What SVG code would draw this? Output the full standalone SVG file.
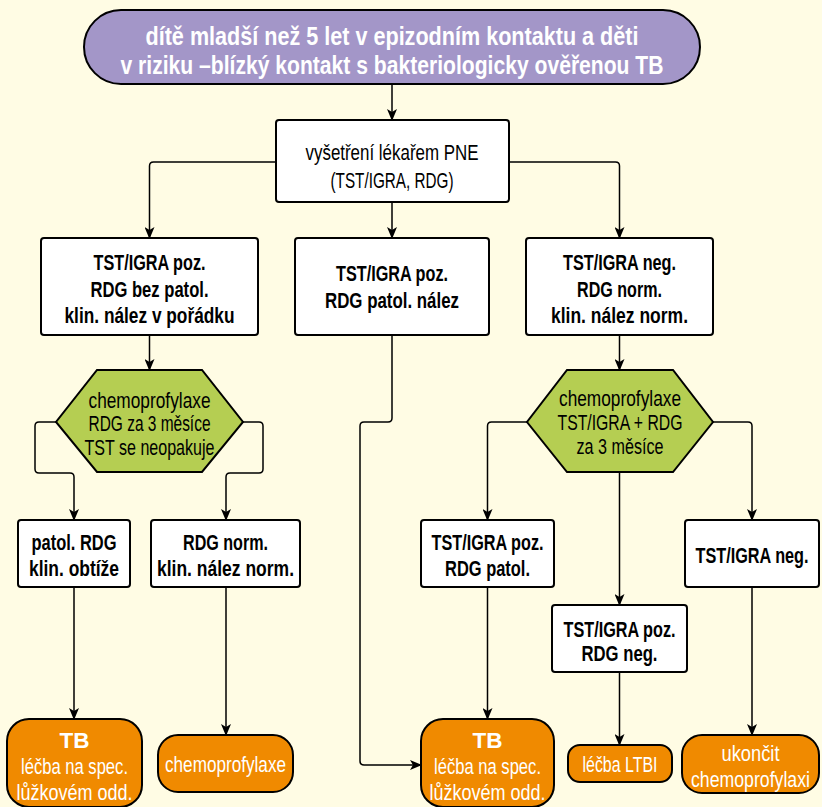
<svg xmlns="http://www.w3.org/2000/svg" width="822" height="807" viewBox="0 0 822 807">
<defs>
<marker id="ah" viewBox="0 0 12 10" refX="11" refY="5" markerWidth="12" markerHeight="10" markerUnits="userSpaceOnUse" orient="auto">
<path d="M0,0 L12,5 L0,10 L3,5 Z" fill="#000"/>
</marker>
<style>
.bg{fill:#FFFCE4}
.wb{fill:#fff;stroke:#000;stroke-width:2}
.ob{fill:#F08A00;stroke:#000;stroke-width:2}
.hx{fill:#B5CE52;stroke:#000;stroke-width:2}
.pl{fill:#A396C8;stroke:#000;stroke-width:2}
.c{fill:none;stroke:#000;stroke-width:1.5;marker-end:url(#ah)}
text{font-family:"Liberation Sans Narrow","Liberation Sans",Arial,sans-serif;font-size:22.5px;text-anchor:middle}
.b{font-weight:bold}
.w{fill:#fff}
.k{fill:#000}
.t{font-size:25px;font-weight:bold;fill:#fff}
</style>
</defs>
<rect class="bg" x="0" y="0" width="822" height="807"/>

<g id="connectors">
<path class="c" d="M392,84 V120"/>
<path class="c" d="M276,162 H153.5 Q149.5,162 149.5,166 V238"/>
<path class="c" d="M392,202 V238"/>
<path class="c" d="M509,162 H615.5 Q619.5,162 619.5,166 V238"/>
<path class="c" d="M149.5,335 V370"/>
<path class="c" d="M56,422 H39 Q35,422 35,426 V469 Q35,473 39,473 H70 Q74,473 74,477 V520"/>
<path class="c" d="M243,422 H259 Q263,422 263,426 V469 Q263,473 259,473 H230 Q226,473 226,477 V520"/>
<path class="c" d="M392,335 V418 Q392,422 388,422 H364 Q360,422 360,426 V761 Q360,765 364,765 H421"/>
<path class="c" d="M619.5,335 V370"/>
<path class="c" d="M527,422 H491.5 Q487.5,422 487.5,426 V520"/>
<path class="c" d="M713,422 H748 Q752,422 752,426 V520"/>
<path class="c" d="M619.5,472 V605"/>
<path class="c" d="M74,587 V719"/>
<path class="c" d="M226,587 V735"/>
<path class="c" d="M487.5,587 V719"/>
<path class="c" d="M619.5,672 V745"/>
<path class="c" d="M752,587 V735"/>
</g>

<g id="start">
<rect class="pl" x="84" y="10" width="616" height="74" rx="37"/>
<text class="t" x="392" y="45" textLength="493" lengthAdjust="spacingAndGlyphs">dítě mladší než 5 let v epizodním kontaktu a děti</text>
<text class="t" x="392" y="74" textLength="543" lengthAdjust="spacingAndGlyphs">v riziku –blízký kontakt s bakteriologicky ověřenou TB</text>
</g>

<g id="exam">
<rect class="wb" x="276" y="120" width="233" height="82" rx="3"/>
<text class="k" x="392" y="160" textLength="173" lengthAdjust="spacingAndGlyphs">vyšetření lékařem PNE</text>
<text class="k" x="392" y="188" textLength="123" lengthAdjust="spacingAndGlyphs">(TST/IGRA, RDG)</text>
</g>

<g id="pos-norm">
<rect class="wb" x="41" y="238" width="217" height="97" rx="3"/>
<text class="k b" x="149.5" y="270" textLength="112" lengthAdjust="spacingAndGlyphs">TST/IGRA poz.</text>
<text class="k b" x="149.5" y="297" textLength="118" lengthAdjust="spacingAndGlyphs">RDG bez patol.</text>
<text class="k b" x="149.5" y="323" textLength="170" lengthAdjust="spacingAndGlyphs">klin. nález v pořádku</text>
</g>

<g id="pos-patol">
<rect class="wb" x="295" y="238" width="194" height="97" rx="3"/>
<text class="k b" x="392" y="281" textLength="112" lengthAdjust="spacingAndGlyphs">TST/IGRA poz.</text>
<text class="k b" x="392" y="308" textLength="134" lengthAdjust="spacingAndGlyphs">RDG patol. nález</text>
</g>

<g id="neg-norm">
<rect class="wb" x="526" y="238" width="187" height="97" rx="3"/>
<text class="k b" x="619.5" y="270" textLength="113" lengthAdjust="spacingAndGlyphs">TST/IGRA neg.</text>
<text class="k b" x="619.5" y="297" textLength="85" lengthAdjust="spacingAndGlyphs">RDG norm.</text>
<text class="k b" x="619.5" y="323" textLength="137" lengthAdjust="spacingAndGlyphs">klin. nález norm.</text>
</g>

<g id="hex1">
<polygon class="hx" points="97,370 202,370 243,422 202,472 97,472 56,422"/>
<text class="k" x="149.5" y="408" textLength="122" lengthAdjust="spacingAndGlyphs">chemoprofylaxe</text>
<text class="k" x="149.5" y="431" textLength="122" lengthAdjust="spacingAndGlyphs">RDG za 3 měsíce</text>
<text class="k" x="149.5" y="455" textLength="130" lengthAdjust="spacingAndGlyphs">TST se neopakuje</text>
</g>

<g id="hex2">
<polygon class="hx" points="567,370 673,370 713,422 673,472 567,472 527,422"/>
<text class="k" x="620" y="406" textLength="122" lengthAdjust="spacingAndGlyphs">chemoprofylaxe</text>
<text class="k" x="620" y="430" textLength="125" lengthAdjust="spacingAndGlyphs">TST/IGRA + RDG</text>
<text class="k" x="620" y="454" textLength="87" lengthAdjust="spacingAndGlyphs">za 3 měsíce</text>
</g>

<g id="patol-rdg">
<rect class="wb" x="18" y="520" width="112" height="67" rx="3"/>
<text class="k b" x="74" y="550" textLength="85" lengthAdjust="spacingAndGlyphs">patol. RDG</text>
<text class="k b" x="74" y="576" textLength="90" lengthAdjust="spacingAndGlyphs">klin. obtíže</text>
</g>

<g id="rdg-norm">
<rect class="wb" x="151" y="520" width="149" height="67" rx="3"/>
<text class="k b" x="225.5" y="550" textLength="85" lengthAdjust="spacingAndGlyphs">RDG norm.</text>
<text class="k b" x="225.5" y="576" textLength="137" lengthAdjust="spacingAndGlyphs">klin. nález norm.</text>
</g>

<g id="pos-rdg-patol">
<rect class="wb" x="421" y="520" width="133" height="67" rx="3"/>
<text class="k b" x="487.5" y="550" textLength="112" lengthAdjust="spacingAndGlyphs">TST/IGRA poz.</text>
<text class="k b" x="487.5" y="576" textLength="85" lengthAdjust="spacingAndGlyphs">RDG patol.</text>
</g>

<g id="neg">
<rect class="wb" x="685" y="520" width="134" height="67" rx="3"/>
<text class="k b" x="752" y="563" textLength="113" lengthAdjust="spacingAndGlyphs">TST/IGRA neg.</text>
</g>

<g id="pos-rdg-neg">
<rect class="wb" x="552" y="605" width="135" height="67" rx="3"/>
<text class="k b" x="619.5" y="637" textLength="112" lengthAdjust="spacingAndGlyphs">TST/IGRA poz.</text>
<text class="k b" x="619.5" y="661" textLength="76" lengthAdjust="spacingAndGlyphs">RDG neg.</text>
</g>

<g id="tb1">
<rect class="ob" x="7" y="719" width="135" height="88" rx="22"/>
<text class="w b" x="74.5" y="748">TB</text>
<text class="w" x="74.5" y="774" textLength="107" lengthAdjust="spacingAndGlyphs">léčba na spec.</text>
<text class="w" x="74.5" y="800" textLength="116" lengthAdjust="spacingAndGlyphs">lůžkovém odd.</text>
</g>

<g id="chemo">
<rect class="ob" x="158" y="735" width="135" height="57" rx="20"/>
<text class="w" x="225.5" y="772" textLength="121" lengthAdjust="spacingAndGlyphs">chemoprofylaxe</text>
</g>

<g id="tb2">
<rect class="ob" x="421" y="719" width="133" height="88" rx="22"/>
<text class="w b" x="487.5" y="748">TB</text>
<text class="w" x="487.5" y="774" textLength="107" lengthAdjust="spacingAndGlyphs">léčba na spec.</text>
<text class="w" x="487.5" y="800" textLength="116" lengthAdjust="spacingAndGlyphs">lůžkovém odd.</text>
</g>

<g id="ltbi">
<rect class="ob" x="568" y="745" width="104" height="37" rx="12"/>
<text class="w" x="620" y="772" textLength="75" lengthAdjust="spacingAndGlyphs">léčba LTBI</text>
</g>

<g id="stop">
<rect class="ob" x="682" y="735" width="137" height="58" rx="20"/>
<text class="w" x="750.5" y="761" textLength="58" lengthAdjust="spacingAndGlyphs">ukončit</text>
<text class="w" x="750.5" y="787" textLength="119" lengthAdjust="spacingAndGlyphs">chemoprofylaxi</text>
</g>
</svg>
